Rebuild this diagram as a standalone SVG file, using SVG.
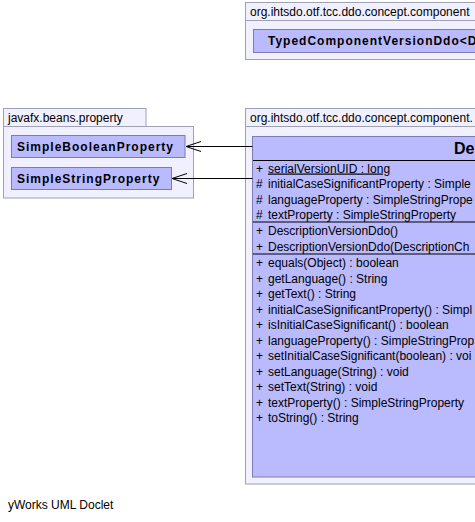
<svg xmlns="http://www.w3.org/2000/svg" width="475" height="522" viewBox="0 0 475 522">
<style>
.pkg{fill:#F0F0FE;stroke:#A0A0B4;stroke-width:1}
.cls{fill:#B9BBFE;stroke:#7C7CB0;stroke-width:1}
.sep{stroke:#000;stroke-width:1}
text{font-family:"Liberation Sans",Arial,sans-serif;font-size:12px;fill:#000}
.bn{font-weight:bold;letter-spacing:1px}
.ttl{font-weight:bold;font-size:16px}
.conn{stroke:#000;stroke-width:1;fill:none}
</style>
<rect x="0" y="0" width="475" height="522" fill="#FFFFFF"/>
<g id="pkg-top">
<rect class="pkg" x="245.5" y="20.5" width="240" height="39"/>
<rect class="pkg" x="245.5" y="2.5" width="240" height="18"/>
<text x="250" y="16">org.ihtsdo.otf.tcc.ddo.concept.component</text>
<g id="TypedComponentVersionDdo">
<rect class="cls" x="253.5" y="29.5" width="230" height="23"/>
<text class="bn" x="268" y="45">TypedComponentVersionDdo&lt;D</text>
</g>
</g>
<g id="pkg-javafx">
<rect class="pkg" x="3.5" y="126.5" width="190" height="71.5"/>
<rect class="pkg" x="3.5" y="108.5" width="142.5" height="18"/>
<text x="8" y="122">javafx.beans.property</text>
<g id="SimpleBooleanProperty">
<rect class="cls" x="11.5" y="135.5" width="173.5" height="22"/>
<text class="bn" x="17" y="151">SimpleBooleanProperty</text>
</g>
<g id="SimpleStringProperty">
<rect class="cls" x="11.5" y="167.5" width="160" height="22"/>
<text class="bn" x="17" y="183">SimpleStringProperty</text>
</g>
</g>
<g id="pkg-main">
<rect class="pkg" x="245.5" y="126.5" width="240" height="357.5"/>
<rect class="pkg" x="245.5" y="108.5" width="240" height="18"/>
<text x="250" y="122">org.ihtsdo.otf.tcc.ddo.concept.component.</text>
<g id="DescriptionVersionDdo">
<rect class="cls" x="252.5" y="136.5" width="240" height="340.5"/>
<text class="ttl" x="454" y="154">De</text>
<line class="sep" x1="253" y1="160.5" x2="475" y2="160.5"/>
<text x="256" y="172.5">+</text><text x="268" y="172.5" text-decoration="underline">serialVersionUID : long </text>
<text x="256" y="188">#</text><text x="268" y="188">initialCaseSignificantProperty : Simple</text>
<text x="256" y="203.5">#</text><text x="268" y="203.5">languageProperty : SimpleStringPrope</text>
<text x="256" y="219">#</text><text x="268" y="219">textProperty : SimpleStringProperty</text>
<line class="sep" x1="253" y1="222" x2="475" y2="222"/>
<text x="256" y="235">+</text><text x="268" y="235">DescriptionVersionDdo()</text>
<text x="256" y="250.5">+</text><text x="268" y="250.5">DescriptionVersionDdo(DescriptionCh</text>
<line class="sep" x1="253" y1="254" x2="475" y2="254"/>
<text x="256" y="267">+</text><text x="268" y="267">equals(Object) : boolean</text>
<text x="256" y="282.5">+</text><text x="268" y="282.5">getLanguage() : String</text>
<text x="256" y="298">+</text><text x="268" y="298">getText() : String</text>
<text x="256" y="313.5">+</text><text x="268" y="313.5">initialCaseSignificantProperty() : Simpl</text>
<text x="256" y="329">+</text><text x="268" y="329">isInitialCaseSignificant() : boolean</text>
<text x="256" y="344.5">+</text><text x="268" y="344.5">languageProperty() : SimpleStringProp</text>
<text x="256" y="360">+</text><text x="268" y="360">setInitialCaseSignificant(boolean) : voi</text>
<text x="256" y="375.5">+</text><text x="268" y="375.5">setLanguage(String) : void</text>
<text x="256" y="391">+</text><text x="268" y="391">setText(String) : void</text>
<text x="256" y="406.5">+</text><text x="268" y="406.5">textProperty() : SimpleStringProperty</text>
<text x="256" y="422">+</text><text x="268" y="422">toString() : String</text>
</g>
</g>
<g id="connectors">
<path class="conn" d="M252.5 146.5 H186 M201 141.5 L186 146.5 L201 151.5"/>
<path class="conn" d="M252.5 178.5 H172 M187 173.5 L172 178.5 L187 183.5"/>
</g>
<text x="8" y="509">yWorks UML Doclet</text>
</svg>
